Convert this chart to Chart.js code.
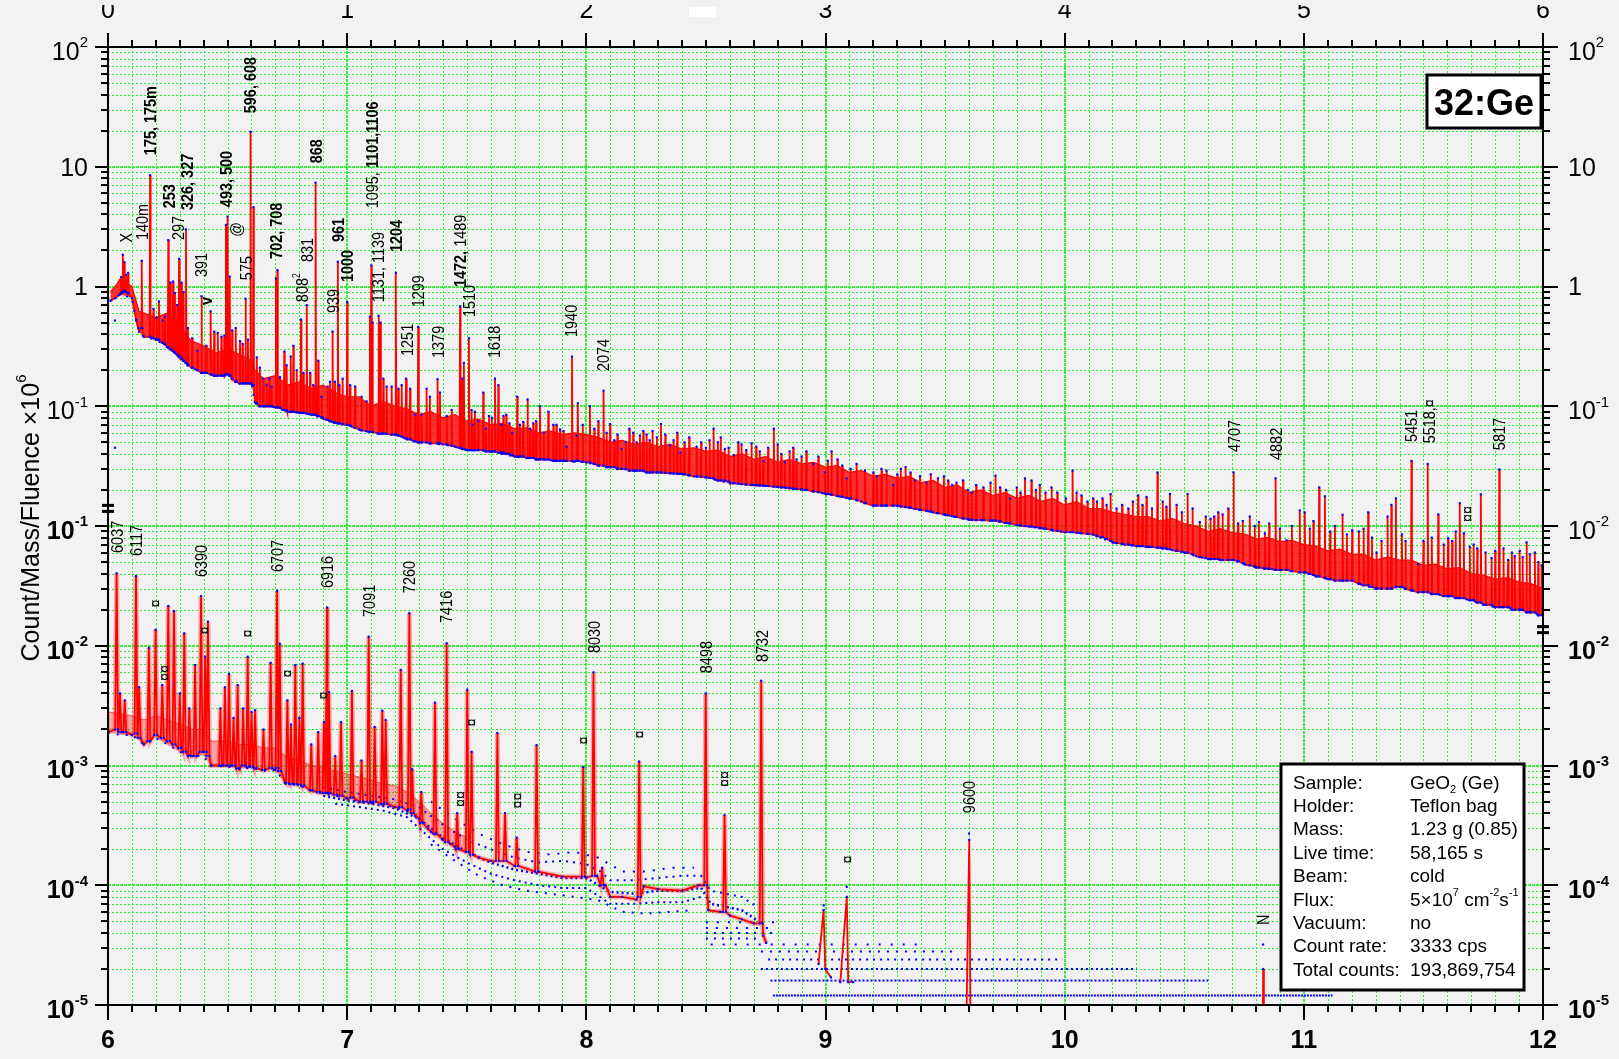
<!DOCTYPE html>
<html>
<head>
<meta charset="utf-8">
<script src="https://cdn.jsdelivr.net/npm/chart.js@4.4.1/dist/chart.umd.min.js"></script>
<style>
  html, body { margin: 0; padding: 0; background: #f2f2f2; }
  #wrap { position: relative; width: 1619px; height: 1059px; }
</style>
</head>
<body>
<div id="wrap"><canvas id="spectrum"></canvas></div>
<script>
// energies in keV, values in Count/Mass/Fluence x10^6
// upper spectrum (0-6 MeV, top axis): [keV, band bottom, band top]
const upperBandA = [[10,0.76,0.9],[30,0.8,1.0],[50,0.86,1.15],[100,0.8,1.0],[118,0.52,0.75],[130,0.42,0.62],[150,0.38,0.6],[200,0.36,0.55],[250,0.31,0.6],[300,0.26,0.45],[350,0.21,0.35],[400,0.19,0.32],[450,0.18,0.28],[500,0.185,0.3],[550,0.157,0.27],[600,0.155,0.24],[614,0.108,0.2],[650,0.1,0.17],[700,0.098,0.18],[750,0.09,0.15],[800,0.088,0.16],[850,0.085,0.14],[900,0.079,0.15],[950,0.072,0.13],[1000,0.07,0.12],[1050,0.064,0.12],[1100,0.06,0.1],[1150,0.059,0.11],[1200,0.058,0.1],[1250,0.053,0.095],[1300,0.05,0.085],[1350,0.049,0.09],[1400,0.048,0.08],[1450,0.046,0.085],[1500,0.043,0.075],[1550,0.043,0.078],[1600,0.042,0.07],[1650,0.04,0.072],[1700,0.038,0.065],[1750,0.037,0.066],[1800,0.036,0.06],[1850,0.0355,0.062],[1900,0.035,0.058],[1950,0.0345,0.06]];
const upperBandB = [[2000,0.034,0.058],[2050,0.032,0.055],[2100,0.031,0.05],[2150,0.03,0.052],[2200,0.029,0.048],[2250,0.0285,0.05],[2300,0.028,0.046],[2350,0.0276,0.048],[2400,0.0272,0.044],[2450,0.026,0.045],[2500,0.0255,0.042],[2550,0.024,0.043],[2600,0.0228,0.038],[2650,0.0224,0.04],[2700,0.022,0.036],[2750,0.0216,0.038],[2800,0.0212,0.034],[2850,0.0207,0.036],[2900,0.0202,0.033],[2950,0.0194,0.034],[3000,0.0186,0.031],[3050,0.0178,0.032],[3100,0.017,0.028],[3150,0.016,0.029],[3200,0.0148,0.026],[3250,0.0148,0.027],[3300,0.0148,0.025],[3350,0.0142,0.026],[3400,0.0136,0.023],[3450,0.013,0.024],[3500,0.0124,0.021],[3550,0.0118,0.022],[3600,0.0113,0.019],[3650,0.0112,0.02],[3700,0.0111,0.018],[3750,0.0106,0.019],[3800,0.0102,0.017],[3850,0.0099,0.018],[3900,0.0096,0.016],[3950,0.0092,0.017]];
const upperBandC = [[4000,0.0089,0.015],[4050,0.0088,0.016],[4100,0.0086,0.014],[4150,0.008,0.014],[4200,0.0073,0.013],[4250,0.007,0.0125],[4300,0.0068,0.012],[4350,0.0067,0.012],[4400,0.0066,0.011],[4450,0.0063,0.0115],[4500,0.006,0.0105],[4550,0.0056,0.01],[4600,0.0053,0.009],[4650,0.0052,0.0095],[4700,0.0052,0.0088],[4750,0.0048,0.0086],[4800,0.0045,0.0078],[4850,0.0044,0.008],[4900,0.0043,0.0074],[4950,0.0042,0.0076],[5000,0.0041,0.007],[5050,0.0038,0.0068],[5100,0.0036,0.0062],[5150,0.0035,0.0064],[5200,0.0035,0.0058],[5250,0.0032,0.0058],[5300,0.003,0.0052],[5350,0.003,0.0055],[5400,0.0031,0.0052],[5450,0.0029,0.0052],[5500,0.0028,0.0047],[5550,0.0027,0.0048],[5600,0.0026,0.0044],[5650,0.0025,0.0045],[5700,0.0024,0.004],[5750,0.0022,0.0039],[5800,0.0021,0.0036],[5850,0.0021,0.0037],[5900,0.002,0.0034],[5950,0.0019,0.0033],[6000,0.0018,0.003]];

// upper peaks: [keV, foot, top]
const upperPeaksLow = [[55,0.88,1.2],[62,0.9,1.84],[68,0.92,1.6],[75,0.9,1.25],[84,0.88,1.3],[141,0.45,1.64],[176,0.38,8.5],[190,0.37,0.65],[203,0.36,0.55],[213,0.36,0.75],[228,0.34,0.52],[238,0.33,0.56],[252,0.31,2.44],[261,0.3,1.08],[272,0.29,1.1],[280,0.28,0.88],[289,0.27,0.7],[297,0.26,1.7],[307,0.25,1.08],[316,0.24,0.9],[326,0.23,3.0],[334,0.22,0.45],[352,0.21,0.37],[374,0.2,0.29],[391,0.19,0.83],[411,0.19,0.32],[429,0.185,0.62],[444,0.18,0.42],[459,0.18,0.41],[474,0.18,0.38],[486,0.18,0.39],[493,0.185,3.27],[500,0.185,3.83],[509,0.18,1.21],[519,0.17,0.43],[534,0.16,0.45],[552,0.155,0.35],[564,0.155,0.33],[575,0.155,0.79],[585,0.155,0.36],[596,0.155,19.6],[608,0.15,4.6],[622,0.105,0.256],[635,0.1,0.21],[649,0.1,0.17],[663,0.1,0.15],[675,0.1,0.17],[684,0.1,0.146],[702,0.098,1.17],[708,0.098,1.37],[719,0.097,0.175],[737,0.093,0.286],[747,0.092,0.22],[764,0.09,0.26],[775,0.09,0.32],[789,0.089,0.2],[807,0.088,0.53],[817,0.088,0.19],[831,0.087,0.7],[845,0.086,0.19],[858,0.085,0.15],[868,0.085,7.36],[879,0.083,0.24],[893,0.081,0.12],[918,0.077,0.146],[928,0.075,0.16],[939,0.074,0.42],[949,0.073,0.16],[961,0.072,1.61],[967,0.072,0.15],[981,0.071,0.17]];
const upperPeaksMid = [[1000,0.07,0.74],[1012,0.069,0.15],[1033,0.066,0.146],[1060,0.063,0.12],[1081,0.062,0.11],[1095,0.061,0.56],[1101,0.061,1.5],[1106,0.061,0.5],[1131,0.059,0.57],[1139,0.059,0.5],[1151,0.059,0.17],[1165,0.059,0.146],[1186,0.058,0.146],[1204,0.058,1.3],[1214,0.057,0.14],[1228,0.056,0.15],[1246,0.054,0.17],[1263,0.053,0.14],[1284,0.051,0.085],[1297,0.05,0.46],[1311,0.05,0.085],[1332,0.05,0.14],[1346,0.049,0.12],[1378,0.049,0.168],[1388,0.049,0.13],[1416,0.048,0.083],[1437,0.047,0.093],[1472,0.045,0.68],[1481,0.044,0.17],[1488,0.044,0.23],[1509,0.043,0.37],[1520,0.043,0.093],[1534,0.043,0.09],[1569,0.043,0.13],[1593,0.042,0.083],[1618,0.042,0.17],[1632,0.041,0.15],[1653,0.041,0.083],[1678,0.04,0.072],[1711,0.038,0.12],[1736,0.038,0.074],[1754,0.037,0.114],[1778,0.037,0.072],[1806,0.036,0.1],[1841,0.036,0.09],[1862,0.035,0.07],[1890,0.035,0.064],[1917,0.035,0.046],[1940,0.035,0.26],[1959,0.035,0.057],[1965,0.035,0.106],[2015,0.034,0.1],[2033,0.033,0.065],[2072,0.032,0.135],[2099,0.031,0.071],[2117,0.031,0.052],[2147,0.03,0.044],[2196,0.029,0.06],[2224,0.029,0.057],[2252,0.028,0.058],[2277,0.028,0.062],[2312,0.028,0.071],[2350,0.0276,0.047],[2394,0.0272,0.041],[2461,0.026,0.046],[2532,0.025,0.065],[2579,0.024,0.044],[2617,0.0228,0.039],[2649,0.0224,0.048],[2691,0.022,0.049],[2740,0.0217,0.035],[2784,0.0213,0.065],[2830,0.021,0.034],[2879,0.0204,0.036],[2949,0.0195,0.033],[2997,0.0187,0.028]];
const upperPeaksHigh = [[3025,0.0183,0.042],[3088,0.0172,0.025],[3165,0.0155,0.029],[3234,0.0148,0.03],[3283,0.0148,0.022],[3335,0.0144,0.031],[3374,0.0139,0.024],[3422,0.0134,0.023],[3513,0.0123,0.024],[3548,0.0119,0.023],[3611,0.0113,0.019],[3711,0.0111,0.0263],[3771,0.0105,0.017],[3834,0.01,0.025],[3861,0.0099,0.024],[3896,0.0096,0.022],[3969,0.0091,0.019],[4033,0.0089,0.029],[4070,0.0087,0.018],[4119,0.0085,0.017],[4158,0.0081,0.017],[4192,0.0075,0.0185],[4217,0.0072,0.014],[4266,0.007,0.014],[4307,0.0068,0.018],[4342,0.0067,0.0175],[4388,0.0066,0.028],[4440,0.0064,0.0185],[4468,0.0062,0.015],[4514,0.006,0.0185],[4565,0.0055,0.0108],[4642,0.0053,0.013],[4684,0.0052,0.014],[4706,0.0052,0.028],[4725,0.0051,0.0105],[4774,0.0047,0.012],[4812,0.0045,0.0108],[4837,0.0044,0.0087],[4882,0.0043,0.025],[4928,0.0043,0.0076],[4983,0.0041,0.0135],[5004,0.0041,0.013],[5064,0.0038,0.021],[5088,0.0037,0.0177],[5162,0.0035,0.0124],[5202,0.0035,0.0092],[5269,0.0032,0.013],[5304,0.003,0.006],[5350,0.003,0.012],[5366,0.003,0.015],[5385,0.0031,0.017],[5450,0.0029,0.035],[5478,0.0028,0.0048],[5518,0.0028,0.033],[5562,0.0027,0.0125],[5603,0.0026,0.0079],[5652,0.0025,0.0155],[5669,0.0025,0.0087],[5694,0.0024,0.0067],[5740,0.0023,0.0184],[5785,0.0022,0.0054],[5817,0.0021,0.0297],[5854,0.0021,0.0052],[5882,0.002,0.0056],[5903,0.002,0.0062],[5931,0.0019,0.0073],[5966,0.0019,0.006],[5994,0.0018,0.0047]];
// smaller lines crowding the band above 1.5 MeV
const upperPeaksSmall = [[1525,0.043,0.07],[1548,0.043,0.075],[1580,0.042,0.065],[1605,0.042,0.08],[1645,0.041,0.07],[1665,0.04,0.085],[1690,0.039,0.06],[1722,0.038,0.07],[1765,0.037,0.065],[1790,0.036,0.075],[1822,0.036,0.06],[1875,0.035,0.07],[1905,0.035,0.062],[1985,0.0345,0.07],[2050,0.032,0.075],[2085,0.031,0.06],[2130,0.03,0.058],[2165,0.03,0.05],[2180,0.029,0.065],[2210,0.029,0.05],[2238,0.029,0.062],[2265,0.028,0.052],[2295,0.028,0.055],[2330,0.0278,0.058],[2365,0.0275,0.052],[2380,0.0274,0.06],[2410,0.027,0.05],[2430,0.0265,0.055],[2480,0.0258,0.05],[2500,0.0255,0.045],[2515,0.0252,0.052],[2550,0.024,0.05],[2562,0.024,0.055],[2595,0.0235,0.045],[2635,0.0226,0.05],[2668,0.0222,0.043],[2710,0.0219,0.046],[2725,0.0218,0.042],[2760,0.0216,0.045],[2800,0.0212,0.048],[2815,0.021,0.04],[2850,0.0207,0.042],[2865,0.0205,0.045],[2900,0.0202,0.038],[2920,0.02,0.042],[2970,0.0192,0.038],[3010,0.0185,0.035],[3050,0.0178,0.036],[3070,0.0175,0.032],[3105,0.017,0.03],[3130,0.0165,0.033],[3200,0.0148,0.028],[3215,0.0148,0.026],[3255,0.0148,0.029],[3300,0.0148,0.027],[3315,0.0146,0.03],[3355,0.0142,0.028],[3395,0.0137,0.026],[3440,0.0132,0.027],[3470,0.0128,0.025],[3495,0.0125,0.026],[3530,0.0121,0.022],[3575,0.0116,0.024],[3595,0.0114,0.02],[3630,0.0112,0.022],[3660,0.0112,0.021],[3690,0.0111,0.023],[3730,0.0109,0.021],[3755,0.0106,0.02],[3800,0.0102,0.021],[3815,0.0101,0.019],[3880,0.0098,0.02],[3920,0.0095,0.019],[3945,0.0093,0.021],[4005,0.0089,0.017],[4050,0.0088,0.019],[4095,0.0086,0.016],[4135,0.0083,0.016],[4175,0.0078,0.015],[4240,0.0071,0.015],[4285,0.0069,0.016],[4325,0.0068,0.015],[4365,0.0067,0.014],[4410,0.0065,0.016],[4425,0.0065,0.0145],[4490,0.0061,0.013],[4535,0.0058,0.014],[4590,0.0054,0.012],[4610,0.0053,0.0115],[4625,0.0053,0.012],[4660,0.0052,0.0125],[4745,0.0049,0.011],[4795,0.0046,0.01],[4855,0.0044,0.0105],[4900,0.0043,0.0095],[4950,0.0042,0.01],[5025,0.004,0.0095],[5040,0.0039,0.011],[5110,0.0036,0.009],[5130,0.0035,0.01],[5180,0.0035,0.0085],[5230,0.0033,0.009],[5250,0.0032,0.0095],[5285,0.0031,0.008],[5325,0.003,0.0075],[5410,0.0031,0.0085],[5425,0.003,0.0075],[5500,0.0028,0.0075],[5535,0.0027,0.008],[5585,0.0026,0.007],[5620,0.0026,0.0075],[5635,0.0025,0.009],[5710,0.0024,0.007],[5725,0.0023,0.0065],[5760,0.0022,0.006],[5800,0.0021,0.0062],[5835,0.0021,0.0065],[5870,0.002,0.006],[5915,0.002,0.0055],[5945,0.0019,0.0058],[5980,0.0018,0.005]];
const upperStray = [[29,0.52],[29,0.045]];

// lower spectrum (6-12 MeV, bottom axis)
const lowerBand = [[6000,0.0019,0.0028],[6050,0.0018,0.0027],[6100,0.0018,0.0026],[6150,0.0015,0.0024],[6200,0.0017,0.0026],[6250,0.0015,0.0024],[6300,0.0013,0.0022],[6350,0.0012,0.002],[6400,0.0012,0.002],[6430,0.001,0.0016],[6500,0.00098,0.0016],[6550,0.00094,0.0015],[6600,0.00096,0.0015],[6650,0.0009,0.0014],[6700,0.00092,0.0014],[6740,0.00072,0.0012],[6800,0.00068,0.0011],[6850,0.00062,0.001],[6900,0.00058,0.00095],[6950,0.00056,0.0009],[7000,0.00053,0.00085],[7050,0.0005,0.0008],[7100,0.00049,0.00075],[7150,0.00047,0.0007],[7200,0.00045,0.00068],[7250,0.00042,0.0006],[7300,0.00036,0.0005],[7350,0.00028,0.0004],[7400,0.00024,0.00033],[7450,0.00021,0.00028],[7500,0.00019,0.00025]];
const lowerBase = [[7550,0.00017],[7600,0.00016],[7700,0.000145],[7800,0.00013],[7900,0.000118],[8000,0.000116],[8045,0.00012],[8080,0.0001],[8100,0.00008],[8150,0.00008],[8210,0.000076],[8240,0.000098],[8300,0.000093],[8400,0.00009],[8470,0.0001],[8510,0.000062],[8560,0.00006],[8600,0.000056],[8650,0.000052],[8700,0.000048],[8740,0.000038],[8752,0.000033]];
const lowerPeaks = [[6036,0.002,0.0403],[6050,0.0019,0.004],[6070,0.0019,0.0035],[6117,0.00185,0.0382],[6130,0.0017,0.0045],[6171,0.0016,0.0096],[6199,0.0018,0.0136],[6227,0.0017,0.0047],[6252,0.0016,0.0215],[6276,0.0015,0.0195],[6300,0.0014,0.004],[6319,0.0013,0.0127],[6340,0.0012,0.003],[6364,0.0012,0.0069],[6389,0.0013,0.026],[6406,0.0013,0.0081],[6418,0.0012,0.0159],[6470,0.001,0.003],[6489,0.001,0.0045],[6506,0.001,0.0058],[6525,0.001,0.0025],[6542,0.00095,0.0047],[6565,0.001,0.003],[6584,0.00098,0.0081],[6600,0.00098,0.0028],[6615,0.00095,0.0029],[6650,0.00092,0.002],[6680,0.00095,0.0072],[6707,0.00095,0.0288],[6718,0.0009,0.0104],[6750,0.00071,0.0035],[6765,0.0007,0.0022],[6783,0.0007,0.0069],[6800,0.00069,0.0025],[6814,0.00068,0.0071],[6850,0.00062,0.0015],[6879,0.0006,0.0019],[6903,0.00059,0.0023],[6916,0.00059,0.0209],[6924,0.00059,0.0041],[6950,0.00057,0.0012],[6974,0.00056,0.0023],[7020,0.00054,0.0042],[7060,0.0005,0.0011],[7090,0.0005,0.0119],[7115,0.0005,0.0021],[7147,0.00048,0.00287],[7161,0.00048,0.0024],[7224,0.00045,0.0063],[7260,0.00043,0.0187],[7272,0.0004,0.00093],[7310,0.00033,0.0006],[7367,0.00027,0.00335],[7416,0.00023,0.0105],[7460,0.0002,0.0004],[7502,0.00019,0.0043],[7520,0.00018,0.0013],[7628,0.00016,0.00187],[7660,0.00016,0.0004],[7709,0.000145,0.00025],[7792,0.00013,0.00148],[7987,0.000118,0.00097],[8030,0.00012,0.006],[8066,0.0001,0.00014],[8221,0.00008,0.00108],[8499,0.0001,0.004],[8578,0.00006,0.000385],[8731,0.000048,0.0051]];
const lowerTail = [[8971,2.2e-5],[8992,6.2e-5],[8999,2e-5],[9023,1.7e-5],null,[9062,1.55e-5],[9089,8e-5],[9095,1.55e-5],[9116,1.55e-5],null,[9588,5e-6],[9601,0.00024],[9607,5e-6],null,[10828,5e-6],[10830,2.0e-5],[10833,5e-6]];
const lowerStray = [[9600,0.00027],[9089,0.000097],[10830,0.000032],[8992,0.000068]];
// scattered blue points between 7 and 8.7 MeV, traced as strands
const cloudTop = [[7350,0.0005],[7450,0.00036],[7550,0.00027],[7650,0.00022],[7750,0.00019],[7850,0.00018],[7950,0.00019],[8050,0.00017],[8150,0.00013],[8250,0.00013],[8350,0.00014],[8450,0.00014]];
const cloudUpper = [[6900,0.00066],[7000,0.0006],[7100,0.00056],[7200,0.00052],[7300,0.00045],[7400,0.00032],[7500,0.00024],[7600,0.0002],[7700,0.00017],[7800,0.000155],[7900,0.00016],[8000,0.00015],[8060,0.00013],[8100,0.00011],[8200,0.00011],[8300,0.000115],[8400,0.00012],[8480,0.00012],[8520,0.00009],[8650,0.00008],[8720,0.000065]];
const cloudMiddle = [[6900,0.00056],[7000,0.00051],[7100,0.00048],[7200,0.00044],[7300,0.00036],[7400,0.00025],[7500,0.00019],[7600,0.000155],[7700,0.000135],[7800,0.000125],[7900,0.000115],[8000,0.000115],[8100,0.000088],[8200,0.000085],[8300,0.00009],[8400,0.00009],[8480,0.000095],[8520,0.00007],[8650,0.000062],[8720,0.00005]];
const cloudLower = [[6950,0.00048],[7050,0.00045],[7150,0.00042],[7250,0.00037],[7300,0.0003],[7400,0.0002],[7500,0.000155],[7600,0.000125],[7700,0.00011],[7800,0.0001],[7900,0.000095],[8000,0.000095],[8100,0.00007],[8200,0.00007],[8300,0.000072],[8400,0.000072],[8480,0.00008]];
const cloudBottom = [[7350,0.00022],[7450,0.00016],[7550,0.00012],[7650,0.0001],[7750,0.00009],[7850,0.000085],[7950,0.00008],[8050,0.000075],[8150,0.00006],[8250,0.000058],[8350,0.00006],[8450,0.000062]];
// single-count rows at high energy: [level, from keV, to keV]
const lowerRows = [[1.2e-5,8780,11120],[1.6e-5,8770,10600],[2.0e-5,8730,10300],[2.4e-5,8760,9990],[2.8e-5,8730,9540],[3.2e-5,8520,9400],[3.6e-5,8500,8720],[4.0e-5,8500,8780],[4.4e-5,8500,8760],[4.9e-5,8500,8800]];

// peak annotations: [text, keV, value at text start]
const upperLabels = [['X',75,2.33],['140m',140,2.44],['**175, 175m**',176,12.5],['**253**',255,4.5],['297',293,2.44],['**326, 327**',330,4.35],['391',389,1.2],['**v**',410,0.7],['**493, 500**',493,4.6],['@',535,2.6],['575',577,1.13],['**596, 608**',594,28],['**702, 708**',702,1.7],['808^{2}',811,0.74],['831',832,1.6],['**868**',870,10.7],['939',941,0.6],['**961**',962,2.35],['**1000**',999,1.09],['1095, **1101,1106**',1102,4.5],['1131, 1139',1129,0.74],['**1204**',1204,1.94],['1251',1249,0.263],['1299',1294,0.67],['1379',1378,0.253],['**1472,** 1489',1472,0.99],['1510',1509,0.556],['1618',1614,0.253],['1940',1936,0.379],['2074',2069,0.197],['4707',4707,0.0415],['4882',4883,0.0356],['5451',5447,0.0502],['5518,¤',5522,0.049],['5817',5815,0.043],['¤¤',5681,0.0108]];
const lowerLabels = [['6037',6038,0.0596],['6117',6115,0.0562],['6390',6389,0.0375],['6707',6707,0.0413],['6916',6916,0.0303],['7091',7091,0.0174],['7260',7258,0.0275],['7416',7413,0.0155],['8030',8032,0.0087],['8498',8500,0.0059],['8732',8734,0.0073],['9600',9599,0.0004],['N',10829,0.0000466],['¤',6196,0.0209],['¤',6401,0.0124],['¤¤',6234,0.00508],['¤',6581,0.0117],['¤',6748,0.00543],['¤',6899,0.00356],['¤',7518,0.00212],['¤¤',7472,0.00045],['¤¤',7710,0.000438],['¤',7986,0.0015],['¤',8220,0.00168],['¤¤',8575,0.00066],['¤',9089,0.000152]];

// axis labels
const topTicks = [0, 1, 2, 3, 4, 5, 6];
const bottomTicks = [6, 7, 8, 9, 10, 11, 12];
const leftUpperTicks = [[100,'10^{2}'],[10,'10'],[1,'1'],[0.1,'10^{-1}']];
const leftLowerTicks = [[0.1,'**10^{-1}**'],[0.01,'**10^{-2}**'],[0.001,'**10^{-3}**'],[1e-4,'**10^{-4}**'],[1e-5,'**10^{-5}**']];
const rightUpperTicks = [[100,'10^{2}'],[10,'10'],[1,'1'],[0.1,'10^{-1}'],[0.01,'10^{-2}']];
const rightLowerTicks = [[0.01,'**10^{-2}**'],[0.001,'**10^{-3}**'],[1e-4,'**10^{-4}**'],[1e-5,'**10^{-5}**']];

const infoKeys = ['Sample:','Holder:','Mass:','Live time:','Beam:','Flux:','Vacuum:','Count rate:','Total counts:'];
const infoValues = ['GeO_{2} (Ge)','Teflon bag','1.23 g (0.85)','58,165 s','cold','5×10^{7} cm^{-2}s^{-1}','no','3333 cps','193,869,754'];

const FONT = 'Arial, "Liberation Sans", Helvetica, sans-serif';

function parseRich(str) {
  const parts = [];
  let bold = false, buf = '', i = 0;
  const flush = () => { if (buf) parts.push({ t: buf, bold }); buf = ''; };
  while (i < str.length) {
    if (str.startsWith('**', i)) { flush(); bold = !bold; i += 2; continue; }
    const c = str[i];
    if ((c === '^' || c === '_') && str[i + 1] === '{') {
      flush();
      const end = str.indexOf('}', i);
      parts.push({ t: str.slice(i + 2, end), bold, sup: c === '^', sub: c === '_' });
      i = end + 1;
      continue;
    }
    buf += c; i++;
  }
  flush();
  return parts;
}

function partFont(p, size) {
  const s = (p.sup || p.sub) ? Math.round(size * 0.6) : size;
  return (p.bold ? 'bold ' : '') + s + 'px ' + FONT;
}

function drawRich(ctx, str, x, baseline, size, align) {
  const parts = parseRich(str);
  let w = 0;
  parts.forEach(p => { ctx.font = partFont(p, size); p.w = ctx.measureText(p.t).width; w += p.w; });
  let cx = align === 'right' ? x - w : align === 'center' ? x - w / 2 : x;
  ctx.textAlign = 'left';
  ctx.textBaseline = 'alphabetic';
  parts.forEach(p => {
    ctx.font = partFont(p, size);
    const dy = p.sup ? -size * 0.5 : p.sub ? size * 0.22 : 0;
    ctx.fillText(p.t, cx, baseline + dy);
    cx += p.w;
  });
}

// rotated text reading upwards; squeeze narrows the glyphs along the text
function drawUp(ctx, str, x, y, size, align, squeeze) {
  ctx.save();
  ctx.translate(x, y);
  ctx.rotate(-Math.PI / 2);
  if (squeeze) ctx.scale(squeeze, 1);
  drawRich(ctx, str, 0, size * 0.358, size, align || 'left');
  ctx.restore();
}

function gridLine(ctx, x1, y1, x2, y2, major) {
  ctx.beginPath();
  ctx.strokeStyle = major ? 'rgba(30,235,30,0.85)' : '#2bf02b';
  ctx.lineWidth = major ? 2 : 1;
  ctx.setLineDash(major ? [3, 1] : [2, 2]);
  ctx.moveTo(x1, y1);
  ctx.lineTo(x2, y2);
  ctx.stroke();
}

function logTicks() {
  const out = [];
  for (let n = -5; n <= 2; n++) for (let m = 1; m <= 9; m++) out.push([m * Math.pow(10, n), m === 1]);
  out.push([1000, true]);
  return out;
}

const frame = {
  id: 'frame',
  beforeDatasetsDraw(chart) {
    const { ctx, chartArea: a } = chart;
    const X = chart.scales.x, Y = chart.scales.y;
    ctx.save();
    ctx.fillStyle = '#f2f2f2';
    ctx.fillRect(a.left, a.top, a.right - a.left, a.bottom - a.top);
    for (let k = 0; k <= 60; k++) {
      const major = k % 10 === 0;
      const px = Math.round(X.getPixelForValue(6 + k / 10)) + (major ? 0 : 0.5);
      gridLine(ctx, px, a.top, px, a.bottom, major);
    }
    logTicks().forEach(([v, major]) => {
      const py = Math.round(Y.getPixelForValue(v)) + (major ? 0 : 0.5);
      gridLine(ctx, a.left, py, a.right, py, major);
    });
    ctx.restore();
  },
  afterDatasetsDraw(chart) {
    const { ctx, chartArea: a } = chart;
    const X = chart.scales.x, X2 = chart.scales.x2, Y = chart.scales.y, YU = chart.scales.yU;
    ctx.save();
    ctx.setLineDash([]);
    ctx.fillStyle = '#000';
    ctx.strokeStyle = '#000';

    // peak annotations
    upperLabels.forEach(([t, kev, v]) => drawUp(ctx, t, X2.getPixelForValue(kev / 1000), YU.getPixelForValue(v), 17, 'left', 0.85));
    lowerLabels.forEach(([t, kev, v]) => drawUp(ctx, t, X.getPixelForValue(kev / 1000), Y.getPixelForValue(v), 17, 'left', 0.85));

    // frame
    ctx.lineWidth = 2;
    ctx.strokeRect(a.left, a.top, a.right - a.left, a.bottom - a.top);

    // x ticks
    ctx.beginPath();
    for (let k = 0; k <= 60; k++) {
      const major = k % 10 === 0;
      const px = Math.round(X.getPixelForValue(6 + k / 10));
      ctx.moveTo(px, a.bottom); ctx.lineTo(px, a.bottom + (major ? 15 : 7));
      ctx.moveTo(px, a.top); ctx.lineTo(px, a.top - (major ? 14 : 7));
    }
    // y ticks
    logTicks().forEach(([v, major]) => {
      const py = Math.round(Y.getPixelForValue(v));
      ctx.moveTo(a.left, py); ctx.lineTo(a.left - (major ? 13 : 7), py);
      ctx.moveTo(a.right, py); ctx.lineTo(a.right + (major ? 15 : 7), py);
    });
    ctx.stroke();

    // axis breaks
    ctx.fillStyle = '#000';
    [[a.left, Y.getPixelForValue(0.139)], [a.right, Y.getPixelForValue(0.0135)]].forEach(([bx, by]) => {
      ctx.fillRect(bx - 6, by - 5, 12, 3);
      ctx.fillRect(bx - 6, by + 1, 12, 3);
    });

    // tick labels (top row is cut by the picture edge)
    ctx.save();
    ctx.beginPath();
    ctx.rect(0, 5, chart.width, chart.height);
    ctx.clip();
    topTicks.forEach(t => drawRich(ctx, String(t), X2.getPixelForValue(t), a.top - 29, 25, 'center'));
    ctx.restore();
    bottomTicks.forEach(t => drawRich(ctx, '**' + t + '**', X.getPixelForValue(t), a.bottom + 43, 25, 'center'));
    const yLab = (scale, list, x, align) => list.forEach(([v, t]) => {
      const off = t.includes('^') ? 4 : 0;
      drawRich(ctx, t, x, scale.getPixelForValue(v) + 25 * 0.358 + off, 25, align);
    });
    yLab(YU, leftUpperTicks, a.left - 20, 'right');
    yLab(Y, leftLowerTicks, a.left - 20, 'right');
    yLab(YU, rightUpperTicks, a.right + 25, 'left');
    yLab(Y, rightLowerTicks, a.right + 25, 'left');

    // axis title
    drawUp(ctx, 'Count/Mass/Fluence ×10^{6}', 30, 518, 25, 'center');

    // small white patch on the top axis
    ctx.fillStyle = '#ffffff';
    ctx.fillRect(689, 7, 27, 10);

    // element box
    ctx.fillStyle = '#ffffff';
    ctx.fillRect(a.right - 116, a.top + 28, 114, 53);
    ctx.lineWidth = 3;
    ctx.strokeRect(a.right - 116, a.top + 28, 114, 53);
    ctx.fillStyle = '#000';
    drawRich(ctx, '**32:Ge**', a.right - 59, a.top + 68, 36, 'center');

    // info box
    const bx = a.right - 262, by = a.bottom - 241;
    ctx.fillStyle = '#ffffff';
    ctx.fillRect(bx, by, 243, 226);
    ctx.strokeRect(bx, by, 243, 226);
    ctx.fillStyle = '#000';
    infoKeys.forEach((k, i) => {
      const yb = by + 17.7 + i * 23.4 + 6.8;
      drawRich(ctx, k, bx + 12, yb, 19, 'left');
      drawRich(ctx, infoValues[i], bx + 129, yb, 19, 'left');
    });
    ctx.restore();
  }
};

// ---- build datasets ----
function mergeLine(low, peaks, hw) {
  const pts = [];
  low.forEach(p => {
    if (peaks.some(q => Math.abs(q[0] - p[0]) <= hw)) return;
    pts.push({ x: p[0], y: p[1] });
  });
  peaks.forEach(q => {
    pts.push({ x: q[0] - hw, y: q[1] }, { x: q[0], y: q[2] }, { x: q[0] + hw, y: q[1] });
  });
  pts.sort((a, b) => a.x - b.x);
  return pts.map(p => ({ x: p.x / 1000, y: p.y }));
}
const toXY = arr => arr.map(p => ({ x: p[0] / 1000, y: p[1] }));

const upperBand = [...upperBandA, ...upperBandB, ...upperBandC];
const upperPeaks = [...upperPeaksLow, ...upperPeaksMid, ...upperPeaksHigh, ...upperPeaksSmall];
const upperLine = mergeLine(upperBand.map(r => [r[0], r[1]]), upperPeaks, 2);
const lowerLine = mergeLine(lowerBand.map(r => [r[0], r[1]]).concat(lowerBase), lowerPeaks, 6);
let lastX = 0;
const tailLine = lowerTail.map(p => {
  if (p) { lastX = p[0] / 1000; return { x: lastX, y: p[1] }; }
  return { x: lastX, y: null };
});

const BLUE = '#0000ff', RED = '#ff0000';
const up = { xAxisID: 'x2', yAxisID: 'yU' };
const lo = { xAxisID: 'x', yAxisID: 'y' };
const strand = (arr, w, gap) => Object.assign({ data: toXY(arr), borderColor: BLUE, borderWidth: w, borderDash: [2, gap], pointRadius: 0, order: 5 }, lo);

const datasets = [
  Object.assign({ data: toXY(upperBand.map(r => [r[0], r[1]])), borderColor: BLUE, borderWidth: 2, borderDash: [2, 7], pointRadius: 0, order: 1 }, up),
  Object.assign({ data: toXY(upperBand.map(r => [r[0], r[2]])), borderColor: RED, borderWidth: 1.2, backgroundColor: 'rgba(255,0,0,0.8)', fill: '-1', pointRadius: 0, order: 6 }, up),
  Object.assign({ data: upperLine, borderColor: RED, borderWidth: 1.8, pointRadius: 0, order: 3 }, up),
  Object.assign({ data: upperLine.concat(toXY(upperStray)), showLine: false, pointRadius: 1.5, pointStyle: 'rect', pointBackgroundColor: BLUE, pointBorderWidth: 0, order: 2 }, up),
  Object.assign({ data: toXY(lowerBand.map(r => [r[0], r[1]])), borderColor: BLUE, borderWidth: 2, borderDash: [2, 7], pointRadius: 0, order: 1 }, lo),
  Object.assign({ data: toXY(lowerBand.map(r => [r[0], r[2]])), borderColor: 'rgba(255,0,0,0.6)', borderWidth: 1, backgroundColor: 'rgba(255,20,20,0.35)', fill: '-1', pointRadius: 0, order: 6 }, lo),
  Object.assign({ data: lowerLine, borderColor: RED, borderWidth: 1.8, pointRadius: 0, order: 3 }, lo),
  Object.assign({ data: tailLine, borderColor: RED, borderWidth: 1.8, pointRadius: 0, spanGaps: false, order: 3 }, lo),
  Object.assign({ data: lowerLine.concat(tailLine.filter(p => p.y !== null && p.y >= 1e-5), toXY(lowerStray)), showLine: false, pointRadius: 1.5, pointStyle: 'rect', pointBackgroundColor: BLUE, pointBorderWidth: 0, order: 2 }, lo),
  Object.assign({ data: lowerLine, borderColor: 'rgba(255,0,0,0.28)', borderWidth: 5, pointRadius: 0, order: 4 }, lo),
  strand(cloudTop, 2, 8),
  strand(cloudUpper, 2, 5),
  strand(cloudMiddle, 2.5, 3),
  strand(cloudLower, 2, 4),
  strand(cloudBottom, 2, 7)
];
const rowGaps = [1, 2, 3, 5, 7, 10, 6, 6, 8, 9];
lowerRows.forEach((r, i) => {
  datasets.push(Object.assign({
    data: [{ x: r[1] / 1000, y: r[0] }, { x: r[2] / 1000, y: r[0] }],
    borderColor: BLUE, borderWidth: 2, borderDash: [2, rowGaps[i]], pointRadius: 0, order: 5
  }, lo));
});

new Chart(document.getElementById('spectrum'), {
  type: 'line',
  data: { datasets },
  options: {
    responsive: true,
    maintainAspectRatio: false,
    animation: false,
    events: [],
    layout: { padding: { left: 108, top: 47, right: 76, bottom: 54 } },
    elements: { line: { tension: 0 } },
    plugins: { legend: { display: false }, tooltip: { enabled: false } },
    scales: {
      x: { type: 'linear', min: 6, max: 12, display: false },
      x2: { type: 'linear', min: 0, max: 6, display: false },
      y: { type: 'logarithmic', min: 1e-5, max: 1000, display: false },
      yU: { type: 'logarithmic', min: 1e-6, max: 100, display: false }
    }
  },
  plugins: [frame]
});
</script>
</body>
</html>
